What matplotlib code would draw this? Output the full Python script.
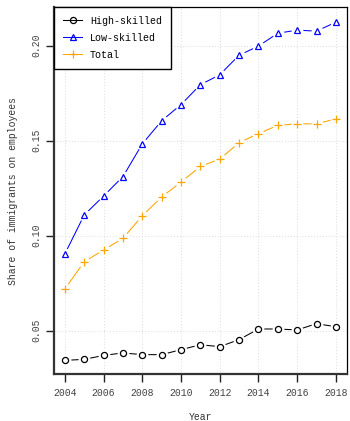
import numpy as np
import matplotlib.pyplot as plt
from matplotlib.lines import Line2D

# Share of immigrants among employees, by skill group
years = np.arange(2004, 2019)
high_skilled = [0.0344, 0.0349, 0.0370, 0.0383, 0.0374, 0.0374, 0.0400, 0.0426,
                0.0416, 0.0453, 0.0509, 0.0509, 0.0504, 0.0537, 0.0521]
low_skilled = [0.0904, 0.1109, 0.1209, 0.1311, 0.1483, 0.1605, 0.1690, 0.1795,
               0.1847, 0.1950, 0.1998, 0.2066, 0.2082, 0.2077, 0.2124]
total = [0.0719, 0.0863, 0.0925, 0.0986, 0.1105, 0.1204, 0.1282, 0.1365,
         0.1403, 0.1490, 0.1537, 0.1581, 0.1589, 0.1589, 0.1615]

series = [
    ("High-skilled", high_skilled, "black", "o", 4.4),
    ("Low-skilled", low_skilled, "blue", "^", 5.0),
    ("Total", total, "orange", "+", 6.0),
]

plt.rcParams["font.family"] = "Liberation Mono"

fig = plt.figure(figsize=(3.5, 4.21), dpi=100)
ax = fig.add_axes([0.1543, 0.1116, 0.8363, 0.8718])

# dotted reference grid at the tick positions
xt = np.arange(2004, 2019, 2)
yt = [0.05, 0.10, 0.15, 0.20]
for v in xt:
    ax.axvline(v, color="#dcdcdc", lw=0.7, ls=(0, (1, 2)), zorder=0)
for v in yt:
    ax.axhline(v, color="#dcdcdc", lw=0.7, ls=(0, (1, 2)), zorder=0)

# lines with small gaps around the points
handles = []
for name, vals, col, mk, ms in series:
    ax.plot(years, vals, color=col, lw=0.75, zorder=2)
    ax.plot(years, vals, ls="none", marker="o", ms=8.5, mfc="white", mec="none", zorder=3)
    ax.plot(years, vals, ls="none", marker=mk, ms=ms,
            mfc="none", mec=col, mew=0.9, zorder=4)
    handles.append(Line2D([], [], color=col, lw=0.75, marker=mk, ms=ms,
                          mfc="none", mec=col, mew=0.9, label=name))

ax.set_xlim(2003.44, 2018.56)
ax.set_ylim(0.0272, 0.2204)
ax.set_xticks(xt)
ax.set_yticks(yt)
ax.set_yticklabels(["0.05", "0.10", "0.15", "0.20"], rotation=90, va="center")
ax.tick_params(axis="both", direction="out", length=6, width=1.0, color="#222222",
               labelsize=7, labelcolor="#444444")
ax.tick_params(axis="x", pad=4)
ax.tick_params(axis="y", pad=3)

for side in ["top", "right"]:
    ax.spines[side].set_linewidth(0.9)
    ax.spines[side].set_color("black")
for side in ["left", "bottom"]:
    ax.spines[side].set_linewidth(1.6)
    ax.spines[side].set_color("#333333")

ax.set_xlabel("Year", fontsize=7, color="#333333", labelpad=10.5)
ax.set_ylabel("Share of immigrants on employees", fontsize=7, color="#333333",
              labelpad=10)

leg = ax.legend(handles=handles, loc="upper left", bbox_to_anchor=(0, 1),
                borderaxespad=0, fancybox=False, framealpha=1, edgecolor="black",
                fontsize=7.2, borderpad=0.9, handlelength=1.9, handletextpad=0.8,
                labelspacing=0.7)
leg.get_frame().set_linewidth(1.0)
leg.set_zorder(10)

fig.savefig("out.png", dpi=100, facecolor="white")
